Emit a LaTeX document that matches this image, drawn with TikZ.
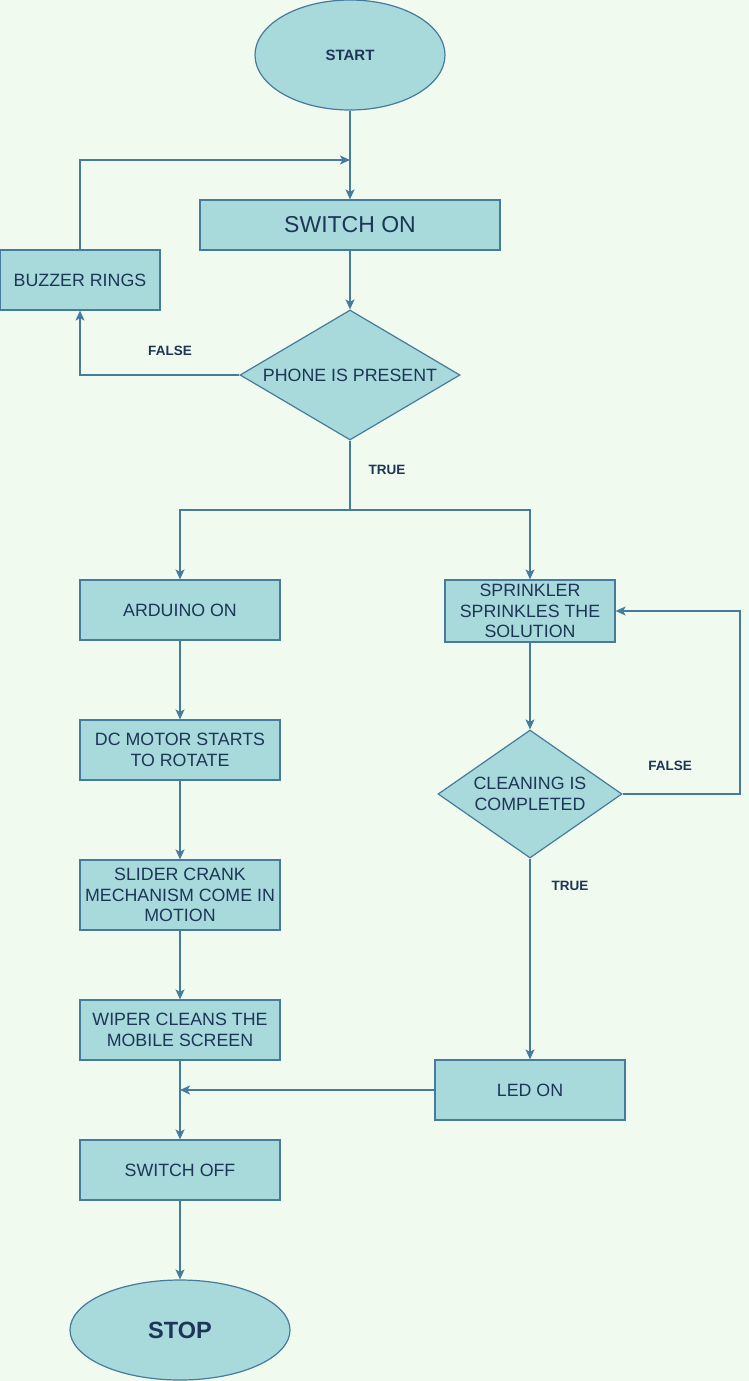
\documentclass[tikz,border=0pt]{standalone}
\usepackage{fontspec}
\setmainfont{Liberation Sans}
\definecolor{fbg}{HTML}{F1FAEE}
\definecolor{ffill}{HTML}{A8DADC}
\definecolor{fline}{HTML}{457B9D}
\definecolor{ftext}{HTML}{1D3557}
\usetikzlibrary{arrows.meta,shapes.geometric}

\begin{document}
\begin{tikzpicture}[x=1pt,y=-1pt,
  proc/.style={draw=fline,fill=ffill,line width=1.2pt,text=ftext,align=center,inner sep=0pt,font=\fontsize{17.8}{20.5}\selectfont},
  term/.style={ellipse,draw=fline,fill=ffill,line width=1.2pt,text=ftext,inner sep=0pt,font=\bfseries},
  dec/.style={diamond,draw=fline,fill=ffill,line width=1.2pt,text=ftext,align=center,inner sep=0pt,font=\fontsize{17.8}{20.5}\selectfont},
  lbl/.style={text=ftext,font=\fontsize{13.5}{15}\selectfont\bfseries},
  arr/.style={-{Stealth[length=10pt,width=9pt,inset=2.5pt]},line width=1.3pt,fline}]
  \fill[fbg] (0,0) rectangle (749,1381);
  \useasboundingbox (0,0) rectangle (749,1381);
  % left branch and top
  \node[term,minimum width=190,minimum height=110,font=\fontsize{15}{17}\selectfont\bfseries] (start) at (350,55) {START};
  \node[proc,minimum width=300,minimum height=50,font=\fontsize{23}{26}\selectfont] (swon) at (350,225) {SWITCH ON};
  \node[proc,minimum width=160,minimum height=60] (buzz) at (80,280) {BUZZER RINGS};
  \node[dec,minimum width=220,minimum height=130,aspect=1.7] (phone) at (350,375) {PHONE IS PRESENT};
  \node[proc,minimum width=200,minimum height=60] (ard) at (180,610) {ARDUINO ON};
  \node[proc,minimum width=200,minimum height=60] (dcm) at (180,750) {DC MOTOR STARTS\\TO ROTATE};
  \node[proc,minimum width=200,minimum height=70] (slid) at (180,895) {SLIDER CRANK\\MECHANISM COME IN\\MOTION};
  \node[proc,minimum width=200,minimum height=60] (wipe) at (180,1030) {WIPER CLEANS THE\\MOBILE SCREEN};
  \node[proc,minimum width=200,minimum height=60] (swoff) at (180,1170) {SWITCH OFF};
  \node[term,minimum width=220,minimum height=100,font=\fontsize{23.5}{26}\selectfont\bfseries] (stop) at (180,1330) {STOP};
  % right branch
  \node[proc,minimum width=170,minimum height=62] (spr) at (530,611) {SPRINKLER\\SPRINKLES THE\\SOLUTION};
  \node[dec,minimum width=184,minimum height=128,aspect=1.44] (clean) at (530,794) {CLEANING IS\\COMPLETED};
  \node[proc,minimum width=190,minimum height=60] (led) at (530,1090) {LED ON};
  % labels
  \node[lbl] (f1) at (170,351) {FALSE};
  \node[lbl] (t1) at (387,470) {TRUE};
  \node[lbl] (f2) at (670,766) {FALSE};
  \node[lbl] (t2) at (570,886) {TRUE};
  \coordinate (loopin) at (350,160);
  \coordinate (split) at (350,510);
  \coordinate (cright) at (740,794);
  \coordinate (joinpt) at (180,1090);
  \draw[arr] (start) -- (swon);
  \draw[arr] (buzz.north) |- (loopin);
  \draw[arr] (swon) -- (phone);
  \draw[arr] (phone.west) -| (buzz.south);
  \draw[line width=1.3pt,fline] (phone.south) -- (split);
  \draw[arr] (split) -| (ard.north);
  \draw[arr] (split) -| (spr.north);
  \draw[arr] (ard) -- (dcm);
  \draw[arr] (dcm) -- (slid);
  \draw[arr] (slid) -- (wipe);
  \draw[arr] (wipe) -- (swoff);
  \draw[arr] (spr) -- (clean);
  \draw[arr] (clean.east) -- (cright) |- (spr.east);
  \draw[arr] (clean) -- (led);
  \draw[arr] (led.west) -- (joinpt);
  \draw[arr] (swoff) -- (stop);
\end{tikzpicture}
\end{document}
